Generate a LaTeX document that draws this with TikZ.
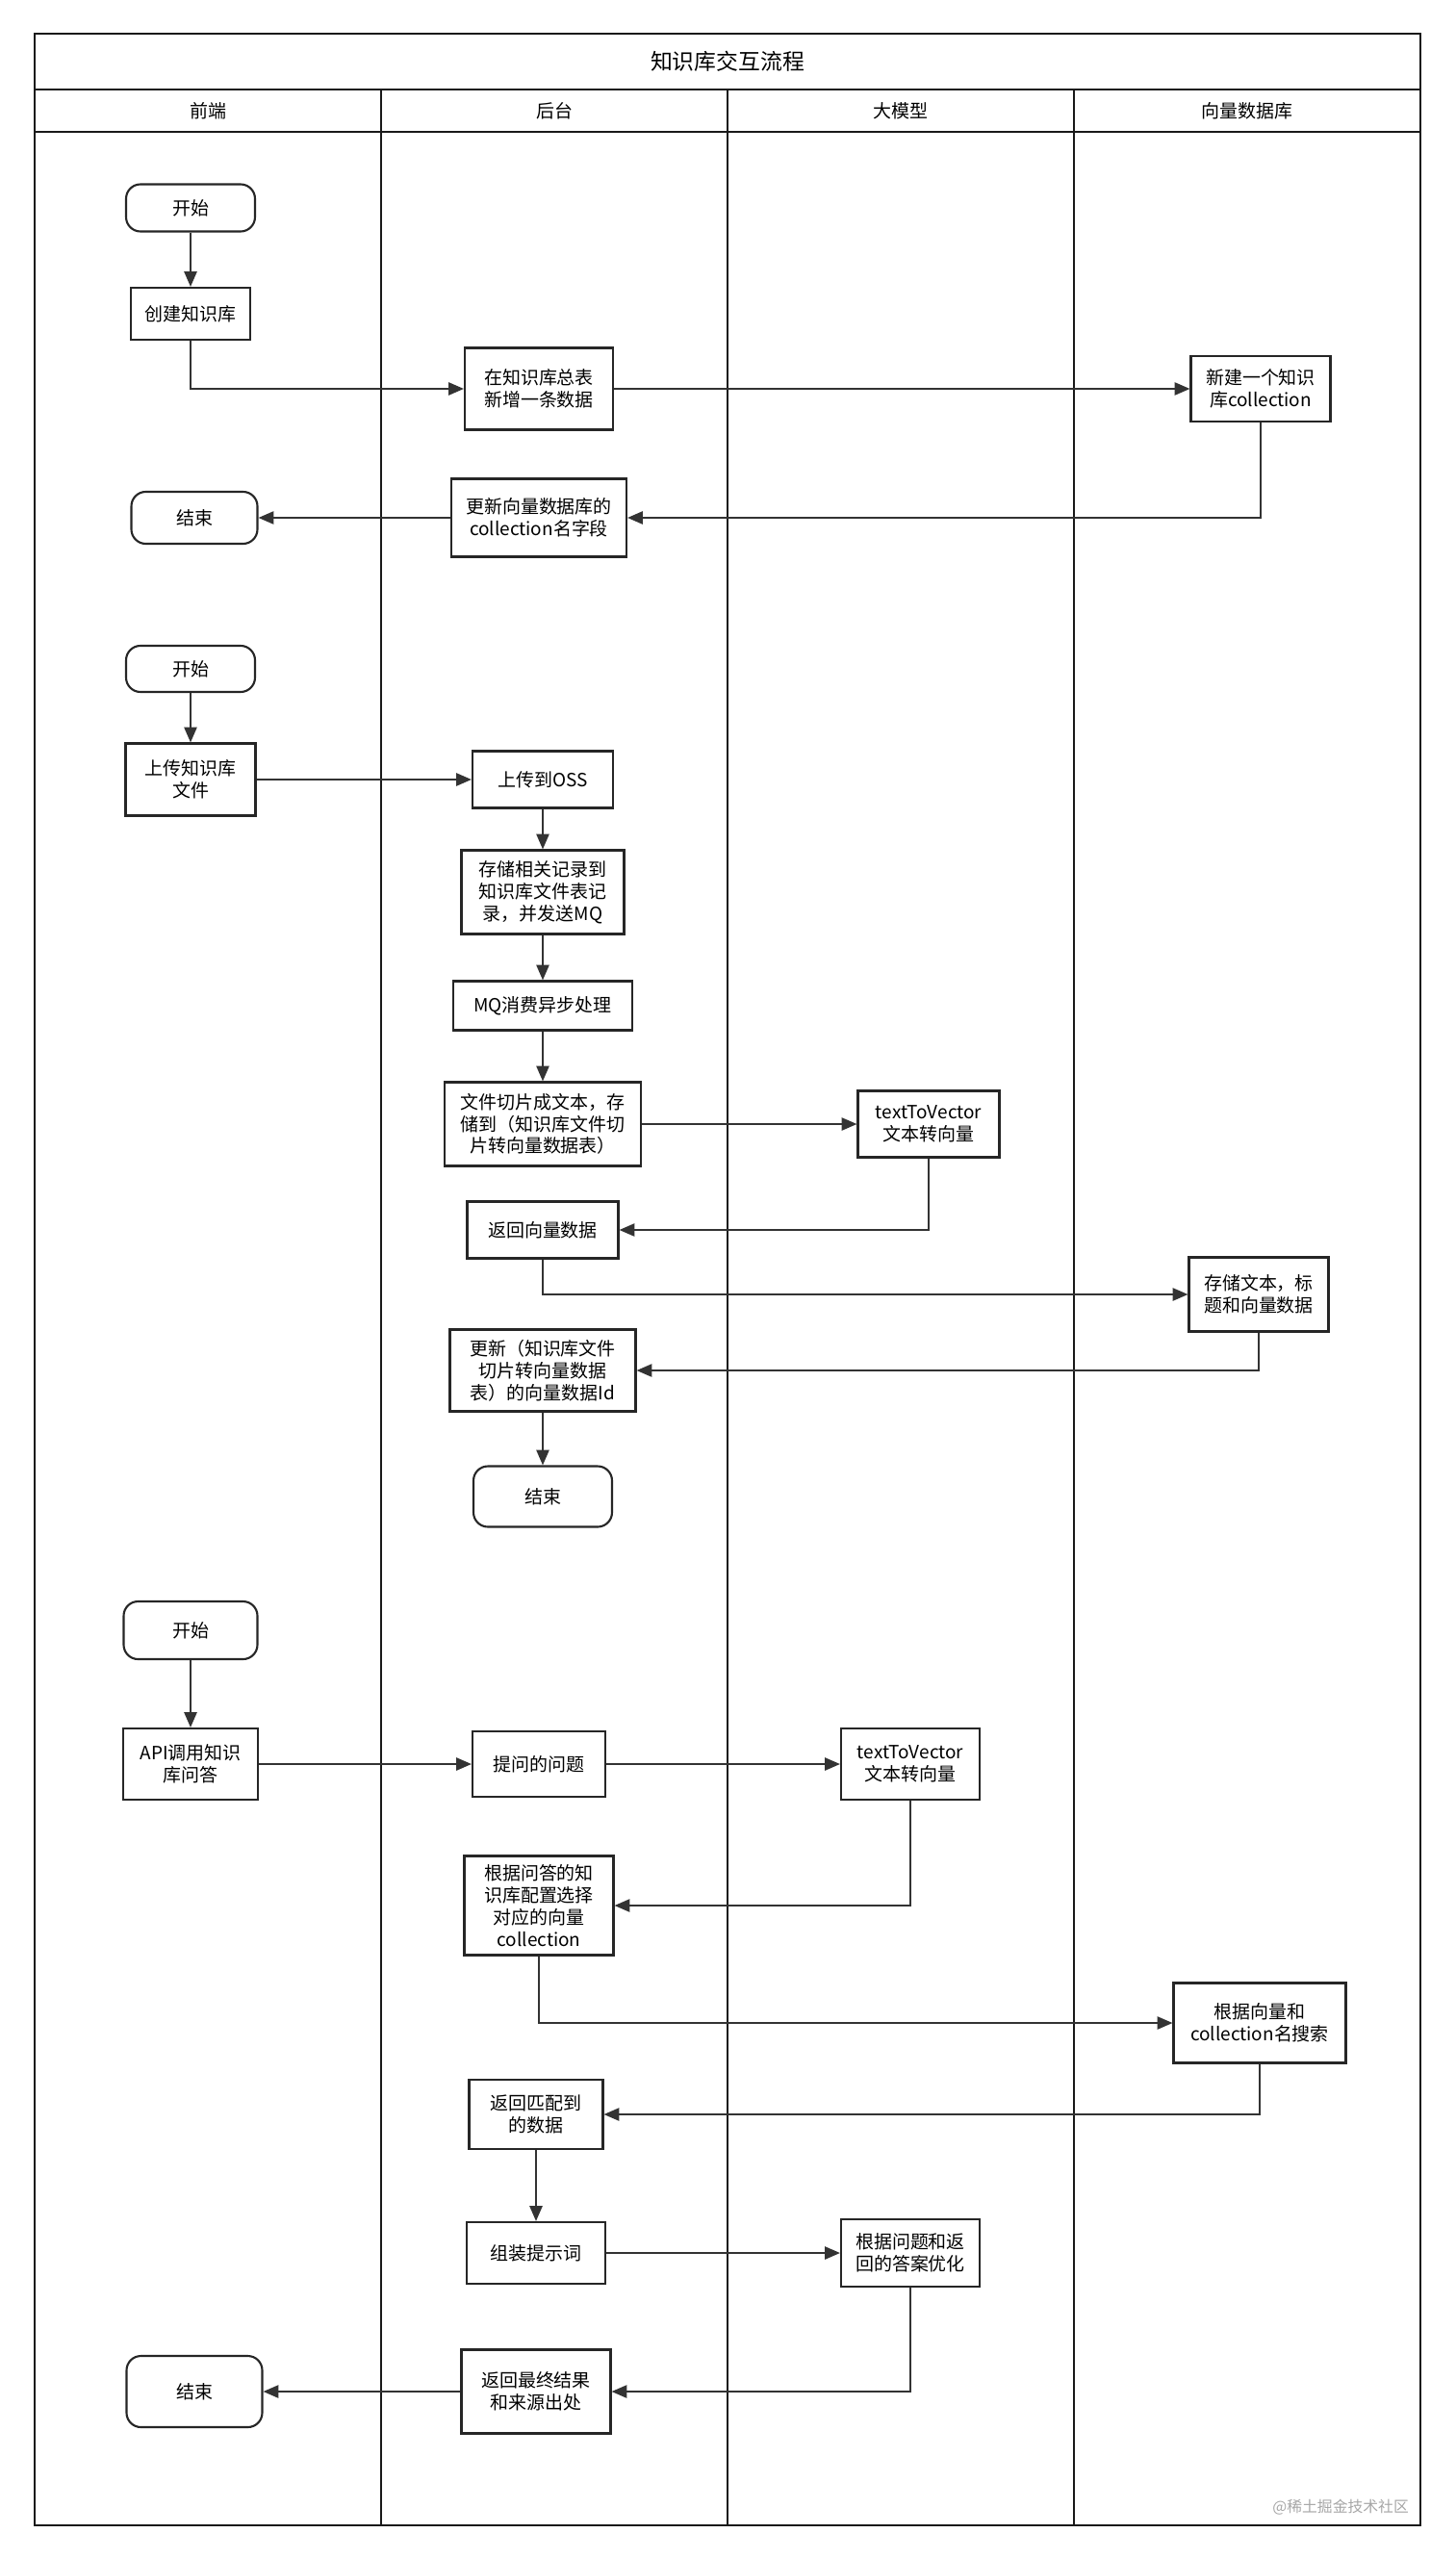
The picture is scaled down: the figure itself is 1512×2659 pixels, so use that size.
\documentclass[tikz,border=0pt]{standalone}
\usepackage{fontspec}
\setmainfont{Noto Sans CJK SC}
\usetikzlibrary{arrows.meta}

\tikzset{
	proc/.style={draw=black!85, line width=1.2pt, fill=white, align=center, inner sep=0pt,
		font=\fontsize{10.8pt}{13pt}\selectfont},
	term/.style={proc, rounded corners=8.5pt},
	link/.style={draw=black!80, line width=1.1pt, -{Triangle[length=9pt, width=7.5pt]}},
	lane/.style={draw=black!90, line width=1pt},
}

\begin{document}
\begin{tikzpicture}[x=0.02cm, y=-0.02cm]
	\useasboundingbox (0, 0) rectangle (1512, 2659);

	% swimlanes
	\draw[lane] (396, 93) -- (396, 2624);
	\draw[lane] (756, 93) -- (756, 2624);
	\draw[lane] (1116, 93) -- (1116, 2624);
	\draw[draw=black!90, line width=1.5pt] (36, 93) -- (1476, 93);
	\draw[draw=black!90, line width=1.5pt] (36, 137) -- (1476, 137);
	\draw[draw=black!90, line width=1.5pt] (36, 35) rectangle (1476, 2624);
	\node (title) at (756, 64) {\fontsize{13pt}{15pt}\selectfont 知识库交互流程};
	\node[font=\fontsize{10.8pt}{13pt}\selectfont] (hfront) at (216, 115) {前端};
	\node[font=\fontsize{10.8pt}{13pt}\selectfont] (hback) at (576, 115) {后台};
	\node[font=\fontsize{10.8pt}{13pt}\selectfont] (hllm) at (936, 115) {大模型};
	\node[font=\fontsize{10.8pt}{13pt}\selectfont] (hvdb) at (1296, 115) {向量数据库};

	% create knowledge base
	\node[term, minimum width=2.68cm, minimum height=0.98cm] (s1) at (198, 216) {开始};
	\node[proc, minimum width=2.48cm, minimum height=1.08cm] (c1) at (198, 326) {创建知识库};
	\node[proc, minimum width=3.08cm, minimum height=1.70cm] (n1) at (560, 404) {在知识库总表\\新增一条数据};
	\node[proc, minimum width=2.90cm, minimum height=1.36cm] (v1) at (1310, 404) {新建一个知识\\库collection};
	\node[proc, minimum width=3.64cm, minimum height=1.62cm] (u1) at (560, 538) {更新向量数据库的\\collection名字段};
	\node[term, minimum width=2.62cm, minimum height=1.08cm] (e1) at (202, 538) {结束};

	\draw[link] (s1) -- (c1);
	\draw[link] (c1.south) |- (n1.west);
	\draw[link] (n1) -- (v1);
	\draw[link] (v1.south) |- (u1.east);
	\draw[link] (u1) -- (e1);

	% upload file
	\node[term, minimum width=2.68cm, minimum height=0.96cm] (s2) at (198, 695) {开始};
	\node[proc, minimum width=2.70cm, minimum height=1.50cm] (f2) at (198, 810) {上传知识库\\文件};
	\node[proc, minimum width=2.92cm, minimum height=1.18cm] (o2) at (564, 810) {上传到OSS};
	\node[proc, minimum width=3.38cm, minimum height=1.74cm] (r2) at (564, 927) {存储相关记录到\\知识库文件表记\\录，并发送MQ};
	\node[proc, minimum width=3.72cm, minimum height=1.02cm] (m2) at (564, 1045) {MQ消费异步处理};
	\node[proc, minimum width=4.08cm, minimum height=1.74cm] (k2) at (564, 1168) {文件切片成文本，存\\储到（知识库文件切\\片转向量数据表）};
	\node[proc, minimum width=2.94cm, minimum height=1.38cm] (t2) at (965, 1168) {textToVector\\文本转向量};
	\node[proc, minimum width=3.14cm, minimum height=1.18cm] (b2) at (564, 1278) {返回向量数据};
	\node[proc, minimum width=2.90cm, minimum height=1.54cm] (d2) at (1308, 1345) {存储文本，标\\题和向量数据};
	\node[proc, minimum width=3.86cm, minimum height=1.70cm] (g2) at (564, 1424) {更新（知识库文件\\切片转向量数据\\表）的向量数据Id};
	\node[term, minimum width=2.88cm, minimum height=1.26cm] (e2) at (564, 1555) {结束};

	\draw[link] (s2) -- (f2);
	\draw[link] (f2) -- (o2);
	\draw[link] (o2) -- (r2);
	\draw[link] (r2) -- (m2);
	\draw[link] (m2) -- (k2);
	\draw[link] (k2) -- (t2);
	\draw[link] (t2.south) |- (b2.east);
	\draw[link] (b2.south) |- (d2.west);
	\draw[link] (d2.south) |- (g2.east);
	\draw[link] (g2) -- (e2);

	% question answering
	\node[term, minimum width=2.78cm, minimum height=1.20cm] (s3) at (198, 1694) {开始};
	\node[proc, minimum width=2.80cm, minimum height=1.48cm] (a3) at (198, 1833) {API调用知识\\库问答};
	\node[proc, minimum width=2.76cm, minimum height=1.36cm] (q3) at (560, 1833) {提问的问题};
	\node[proc, minimum width=2.88cm, minimum height=1.48cm] (t3) at (946, 1833) {textToVector\\文本转向量};
	\node[proc, minimum width=3.10cm, minimum height=2.06cm] (p3) at (560, 1980) {根据问答的知\\识库配置选择\\对应的向量\\collection};
	\node[proc, minimum width=3.58cm, minimum height=1.66cm] (h3) at (1309, 2102) {根据向量和\\collection名搜索};
	\node[proc, minimum width=2.78cm, minimum height=1.44cm] (b3) at (557, 2197) {返回匹配到\\的数据};
	\node[proc, minimum width=2.88cm, minimum height=1.28cm] (z3) at (557, 2341) {组装提示词};
	\node[proc, minimum width=2.88cm, minimum height=1.40cm] (y3) at (946, 2341) {根据问题和返\\回的答案优化};
	\node[proc, minimum width=3.10cm, minimum height=1.74cm] (w3) at (557, 2485) {返回最终结果\\和来源出处};
	\node[term, minimum width=2.82cm, minimum height=1.48cm] (e3) at (202, 2485) {结束};

	\draw[link] (s3) -- (a3);
	\draw[link] (a3) -- (q3);
	\draw[link] (q3) -- (t3);
	\draw[link] (t3.south) |- (p3.east);
	\draw[link] (p3.south) |- (h3.west);
	\draw[link] (h3.south) |- (b3.east);
	\draw[link] (b3) -- (z3);
	\draw[link] (z3) -- (y3);
	\draw[link] (y3.south) |- (w3.east);
	\draw[link] (w3) -- (e3);

	\node[text=black!35, font=\fontsize{9pt}{11pt}\selectfont, anchor=east] (mark) at (1470, 2605) {@稀土掘金技术社区};
\end{tikzpicture}
\end{document}
